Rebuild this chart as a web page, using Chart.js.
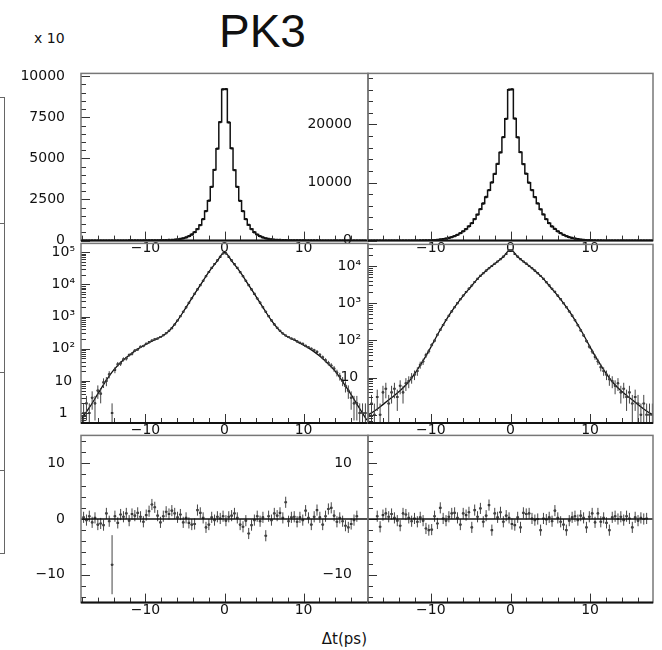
<!DOCTYPE html>
<html>
<head>
<meta charset="utf-8">
<script src="https://cdn.jsdelivr.net/npm/chart.js@4.4.1/dist/chart.umd.min.js"></script>
<style>
  body { margin: 0; background: #fff; width: 662px; height: 650px; position: relative; overflow: hidden; font-family: "DejaVu Sans", sans-serif; }
  canvas { position: absolute; }
  .txt { position: absolute; color: #111; white-space: nowrap; line-height: 1; }
  .frag { position: absolute; background: #666; }
</style>
</head>
<body>
<div class="txt" style="left:219px; top:4px; font:46px 'Liberation Sans', Arial, sans-serif;">PK3</div>
<div class="txt" style="left:34px; top:30px; font:14px 'DejaVu Sans';">x&nbsp;10</div>
<div class="txt" style="right:295px; top:630px; font:15px 'DejaVu Sans';">Δt(ps)</div>

<!-- edge of the neighbouring figure, cut off on the left -->
<div class="frag" style="left:4px; top:97px; width:1px; height:456px;"></div>
<div class="frag" style="left:0px; top:97px; width:5px; height:1px;"></div>
<div class="frag" style="left:0px; top:223px; width:5px; height:1px;"></div>
<div class="frag" style="left:0px; top:372px; width:5px; height:1px;"></div>
<div class="frag" style="left:0px; top:470px; width:5px; height:1px;"></div>
<div class="frag" style="left:0px; top:553px; width:5px; height:1px;"></div>

<script>
// bin centres of the delta-t histograms (ps), 0.36 ps bins
const binCenters = [
  -17.82, -17.46, -17.10, -16.74, -16.38, -16.02, -15.66, -15.30, -14.94, -14.58,
  -14.22, -13.86, -13.50, -13.14, -12.78, -12.42, -12.06, -11.70, -11.34, -10.98,
  -10.62, -10.26, -9.90, -9.54, -9.18, -8.82, -8.46, -8.10, -7.74, -7.38,
  -7.02, -6.66, -6.30, -5.94, -5.58, -5.22, -4.86, -4.50, -4.14, -3.78,
  -3.42, -3.06, -2.70, -2.34, -1.98, -1.62, -1.26, -0.90, -0.54, -0.18,
  0.18, 0.54, 0.90, 1.26, 1.62, 1.98, 2.34, 2.70, 3.06, 3.42,
  3.78, 4.14, 4.50, 4.86, 5.22, 5.58, 5.94, 6.30, 6.66, 7.02,
  7.38, 7.74, 8.10, 8.46, 8.82, 9.18, 9.54, 9.90, 10.26, 10.62,
  10.98, 11.34, 11.70, 12.06, 12.42, 12.78, 13.14, 13.50, 13.86, 14.22,
  14.58, 14.94, 15.30, 15.66, 16.02, 16.38, 16.74, 17.10, 17.46, 17.82
];

// entries per bin, left column
const leftCounts = [
  1, 2, 1, 3, 2, 5, 4, 9, 10, 16,
  1, 22, 33, 35, 47, 50, 64, 70, 88, 95,
  115, 122, 143, 160, 180, 198, 208, 232, 262, 304,
  362, 438, 565, 755, 1025, 1410, 1940, 2690, 3710, 5120,
  7010, 9480, 13020, 17950, 24280, 32750, 43050, 55900, 72100, 92000,
  92200, 71900, 56100, 42900, 32700, 24200, 17900, 13050, 9520, 7000,
  5080, 3650, 2710, 1960, 1420, 1035, 765, 572, 450, 364,
  298, 258, 231, 208, 193, 170, 152, 142, 123, 111,
  100, 90, 80, 65, 54, 44, 36, 30, 24, 18,
  14, 10, 7, 5, 3, 2, 2, 1, 1, 1
];

// entries per bin, right column
const rightCounts = [
  1, 2, 1, 3, 1, 4, 5, 2, 4, 5,
  3, 6, 4, 7, 8, 10, 12, 15, 22, 27,
  40, 51, 75, 98, 141, 192, 258, 352, 458, 603,
  778, 1004, 1276, 1605, 1995, 2455, 2995, 3710, 4490, 5410,
  6390, 7510, 8690, 10010, 11490, 13210, 15190, 17820, 20980, 26000,
  26050, 21020, 17790, 15220, 13180, 11520, 9980, 8710, 7490, 6410,
  5390, 4510, 3690, 3010, 2440, 2005, 1595, 1282, 996, 782,
  597, 462, 348, 255, 186, 136, 96, 68, 50, 36,
  27, 19, 15, 12, 9, 8, 6, 7, 4, 5,
  3, 4, 2, 3, 2, 1, 2, 1, 1, 1
];

// fit curves, sampled every 1 ps
const fitX = [
  -18, -17, -16, -15, -14, -13, -12, -11, -10, -9, -8, -7, -6, -5, -4, -3, -2, -1, 0,
  1, 2, 3, 4, 5, 6, 7, 8, 9, 10, 11, 12, 13, 14, 15, 16, 17, 18
];
const leftFit = [
  0.7, 1.6, 4, 10, 22, 40, 64, 97, 134, 180, 235, 360, 720, 1700, 4200, 10000, 24000, 50000, 100000,
  50000, 24000, 10000, 4200, 1700, 720, 360, 232, 178, 130, 92, 60, 36, 20, 9, 3.8, 1.5, 0.6
];
const rightFit = [
  0.95, 1.3, 1.9, 2.8, 4.2, 6.8, 13, 28, 66, 165, 380, 790, 1520, 2720, 4850, 7700, 11400, 16800, 27000,
  16800, 11400, 7700, 4850, 2720, 1520, 790, 380, 165, 66, 28, 13, 6.8, 4.2, 2.8, 1.9, 1.3, 0.95
];

// residuals (data - fit)/sigma per bin
const leftPulls = [
  0.3, -0.2, 0.5, -0.6, 0.2, -1.0, -0.8, -1.1, 1.0, -0.4,
  -8.2, 0.5, -0.7, 0.8, 0.4, 1.0, -0.3, 0.9, 0.6, 1.1,
  0.4, -0.5, 0.7, 1.4, 2.6, 2.1, 0.6, -0.6, 0.5, 1.3,
  0.9, 1.5, 1.0, 0.3, 0.8, -0.6, 0.2, -0.7, -1.0, -0.9,
  1.6, 1.1, 0.2, -1.5, -1.0, 0.3, -0.2, 0.4, 0.1, 0.5,
  -0.3, 0.4, 0.6, 1.0, 0.2, -1.0, -1.4, -0.3, -2.6, -1.1,
  -0.2, 0.5, -0.4, 0.3, -3.0, 0.5, -0.2, 1.0, 0.6, 1.1,
  0.2, 3.0, -0.4, 0.3, 0.4, -0.5, 0.3, -0.2, 1.5, 0.2,
  -1.0, 0.4, 1.6, 0.3, -1.0, 0.5, 1.8, 2.0, 0.6, -0.5,
  0.2, -0.4, -1.2, -1.5, -0.9, -0.2, 0.5, null, null, null
];
const rightPulls = [
  null, null, null, 0.5, -1.4, 0.7, 1.0, 0.4, 0.9, 0.2,
  -0.3, -1.2, 1.0, 0.8, 0.2, -0.4, 0.1, -0.5, 0.3, -0.3,
  -1.7, -2.0, -1.9, 0.5, -0.8, 2.0, 0.1, -0.3, 0.4, 1.0,
  1.1, 0.2, -1.0, 1.0, 0.7, 1.2, -1.5, 1.6, 0.4, 1.9,
  -0.5, 0.6, 2.5, -2.0, 1.0, 0.3, 1.2, -0.5, 0.6, 0.2,
  -0.9, -1.1, 0.3, -1.5, 1.1, 0.9, 1.0, 0.1, -0.2, 0.0,
  -2.0, 0.1, -0.1, 0.3, -0.4, 1.5, 0.2, -0.5, -1.0, -2.0,
  -0.3, 0.3, 0.5, -0.2, 0.6, 0.2, -1.5, 0.4, 1.0, -0.6,
  1.0, -0.5, 0.2, -0.7, -2.0, 0.3, 0.5, 0.0, 0.4, -0.2,
  0.5, 0.1, -1.5, 0.3, -0.3, 0.2, 0.0, 0.1, null, null
];
const pullErr = 1;
const leftBigErr = { 10: 5.3 };

// tick labels
const timeTicks = [-10, 0, 10];
const linTicksLeft = [0, 25000, 50000, 75000, 100000];   // shown divided by 10 ("x 10")
const linTicksRight = [0, 10000, 20000];
const logTicksLeft = [1, 10, 100, 1000, 10000, 100000];
const logTicksRight = [10, 100, 1000, 10000];
const pullTicksLeft = [-10, 0, 10];
const pullTicksRight = [-10, 10];

const tickFont = { family: 'DejaVu Sans', size: 14 };
const sup = { 2: '²', 3: '³', 4: '⁴', 5: '⁵' };
const minus = v => (v < 0 ? '−' + Math.abs(v) : String(v));
const powLabel = v => {
  const e = Math.round(Math.log10(v));
  return e === 0 ? '1' : e === 1 ? '10' : '10' + sup[e];
};

function yTickList(ys, o) {
  const out = [];
  if (o.log) {
    for (let d = Math.floor(Math.log10(ys.min)); d <= Math.ceil(Math.log10(ys.max)); d++) {
      for (let k = 1; k < 10; k++) {
        const v = k * Math.pow(10, d);
        if (v >= ys.min && v <= ys.max) out.push([v, k === 1]);
      }
    }
  } else {
    const start = Math.ceil(ys.min / o.yMinor) * o.yMinor;
    for (let v = start; v <= ys.max + 1e-9; v += o.yMinor) {
      out.push([v, Math.abs(v / o.yMajor - Math.round(v / o.yMajor)) < 1e-6]);
    }
  }
  return out;
}

// ROOT-like frame with inward ticks
const rootFrame = {
  id: 'rootFrame',
  afterDraw(chart, args, o) {
    const { ctx, chartArea: a } = chart;
    const xs = chart.scales.x, ys = chart.scales.y;
    ctx.save();
    ctx.strokeStyle = '#333';
    ctx.lineWidth = 1;
    ctx.beginPath();
    for (let v = -18; v <= 18; v += 2) {
      if (v < xs.min || v > xs.max) continue;
      const px = Math.round(xs.getPixelForValue(v)) + 0.5;
      const len = v % 10 === 0 ? 9 : 5;
      ctx.moveTo(px, a.bottom);
      ctx.lineTo(px, a.bottom - len);
    }
    yTickList(ys, o).forEach(([v, major]) => {
      const py = Math.round(ys.getPixelForValue(v)) + 0.5;
      ctx.moveTo(a.left, py);
      ctx.lineTo(a.left + (major ? 9 : 5), py);
    });
    ctx.stroke();
    if (o.zero) {
      ctx.strokeStyle = '#111';
      ctx.lineWidth = 1.5;
      ctx.beginPath();
      const pz = ys.getPixelForValue(0);
      ctx.moveTo(a.left, pz);
      ctx.lineTo(a.right, pz);
      ctx.stroke();
    }
    ctx.strokeStyle = '#777';
    ctx.lineWidth = 1.5;
    ctx.strokeRect(a.left, a.top, a.right - a.left, a.bottom - a.top);
    ctx.strokeStyle = '#111';
    ctx.lineWidth = 2;
    ctx.beginPath();
    ctx.moveTo(a.left, a.bottom);
    ctx.lineTo(a.right, a.bottom);
    ctx.stroke();
    ctx.restore();
  }
};

// vertical + horizontal error bars
const errorBars = {
  id: 'errorBars',
  afterDatasetsDraw(chart) {
    const { ctx, chartArea: a, scales: { x, y } } = chart;
    ctx.save();
    ctx.beginPath();
    ctx.rect(a.left, a.top, a.right - a.left, a.bottom - a.top);
    ctx.clip();
    chart.data.datasets.forEach(ds => {
      if (!ds.yErr) return;
      ctx.strokeStyle = '#444';
      ctx.lineWidth = 1;
      ctx.beginPath();
      ds.data.forEach((p, i) => {
        if (p.y == null) return;
        const e = ds.yErr[i];
        const px = x.getPixelForValue(p.x);
        const py = y.getPixelForValue(p.y);
        ctx.moveTo(px, y.getPixelForValue(Math.max(p.y - e, y.min)));
        ctx.lineTo(px, y.getPixelForValue(Math.min(p.y + e, y.max)));
        ctx.moveTo(x.getPixelForValue(p.x - ds.xHalf), py);
        ctx.lineTo(x.getPixelForValue(p.x + ds.xHalf), py);
      });
      ctx.stroke();
    });
    ctx.restore();
  }
};

const AXW = 80;
function panel(area, xRange, yOpts, datasets, frameOpts) {
  const cv = document.createElement('canvas');
  cv.width = area.r - area.l + AXW + 12;
  cv.height = area.b - area.t + 36;
  cv.style.left = (area.l - AXW) + 'px';
  cv.style.top = (area.t - 12) + 'px';
  document.body.appendChild(cv);
  const y = Object.assign({
    grid: { display: false, drawTicks: false },
    border: { display: false },
    afterFit: s => { s.width = AXW; }
  }, yOpts);
  y.ticks = Object.assign({ color: '#111', font: tickFont, padding: 16, autoSkip: false }, yOpts.ticks);
  return new Chart(cv, {
    type: 'line',
    data: { datasets },
    plugins: [errorBars, rootFrame],
    options: {
      responsive: false,
      animation: false,
      devicePixelRatio: 1,
      layout: { padding: { top: 12, right: 12, left: 0, bottom: 0 } },
      plugins: { legend: { display: false }, tooltip: { enabled: false }, rootFrame: frameOpts },
      scales: {
        x: {
          type: 'linear', min: xRange[0], max: xRange[1],
          grid: { display: false, drawTicks: false }, border: { display: false },
          afterFit: s => { s.height = 24; },
          afterBuildTicks: s => { s.ticks = timeTicks.map(v => ({ value: v })); },
          ticks: { padding: -1, color: '#111', font: tickFont, maxRotation: 0, autoSkip: false, callback: v => minus(v) }
        },
        y
      }
    }
  });
}

const pts = (xs, ys) => xs.map((x, i) => ({ x, y: ys[i] }));

const histo = counts => ({
  data: pts(binCenters, counts), stepped: 'middle', borderColor: '#111', borderWidth: 1.5,
  pointStyle: 'rect', pointRadius: 1.6, pointBackgroundColor: '#111', pointBorderWidth: 0
});
const markers = (vals, errs) => ({
  data: pts(binCenters, vals), showLine: false, yErr: errs, xHalf: 0.18,
  pointStyle: 'rect', pointRadius: 1.5, pointBackgroundColor: '#111', pointBorderWidth: 0
});
const fitLine = vals => ({
  data: pts(fitX, vals), borderColor: '#111', borderWidth: 1.3, pointRadius: 0,
  cubicInterpolationMode: 'monotone'
});

const colL = { l: 81, r: 368 }, colR = { l: 368, r: 653 };
const rows = [{ t: 61, b: 241 }, { t: 241, b: 423 }, { t: 423, b: 603 }];
const area = (c, r) => ({ l: c.l, r: c.r, t: r.t, b: r.b });
const xL = [-18.15, 18.15], xR = [-17.9, 17.9];

const fixedTicks = vals => s => { s.ticks = vals.map(v => ({ value: v })); };

// top row: linear histograms
panel(area(colL, rows[0]), xL,
  { type: 'linear', min: 0, max: 101700, afterBuildTicks: fixedTicks(linTicksLeft), ticks: { callback: v => String(v / 10) } },
  [histo(leftCounts)], { yMajor: 25000, yMinor: 5000 });
panel(area(colR, rows[0]), xR,
  { type: 'linear', min: 0, max: 28800, afterBuildTicks: fixedTicks(linTicksRight), ticks: { callback: v => String(v) } },
  [histo(rightCounts)], { yMajor: 10000, yMinor: 2000 });

// middle row: log scale with fit
panel(area(colL, rows[1]), xL,
  { type: 'logarithmic', min: 0.49, max: 189000, afterBuildTicks: fixedTicks(logTicksLeft),
    ticks: { crossAlign: 'center', padding: 6, callback: v => powLabel(v) } },
  [fitLine(leftFit), markers(leftCounts, leftCounts.map(Math.sqrt))], { log: true });
panel(area(colR, rows[1]), xR,
  { type: 'logarithmic', min: 0.62, max: 38000, afterBuildTicks: fixedTicks(logTicksRight),
    ticks: { crossAlign: 'center', padding: 7, callback: v => powLabel(v) } },
  [fitLine(rightFit), markers(rightCounts, rightCounts.map(Math.sqrt))], { log: true });

// bottom row: residuals
panel(area(colL, rows[2]), xL,
  { type: 'linear', min: -15, max: 15, afterBuildTicks: fixedTicks(pullTicksLeft), ticks: { callback: v => minus(v) } },
  [markers(leftPulls, leftPulls.map((v, i) => leftBigErr[i] || pullErr))], { yMajor: 10, yMinor: 2, zero: true });
panel(area(colR, rows[2]), xR,
  { type: 'linear', min: -15, max: 15, afterBuildTicks: fixedTicks(pullTicksRight), ticks: { callback: v => minus(v) } },
  [markers(rightPulls, rightPulls.map(() => pullErr))], { yMajor: 10, yMinor: 2, zero: true });
</script>
</body>
</html>
